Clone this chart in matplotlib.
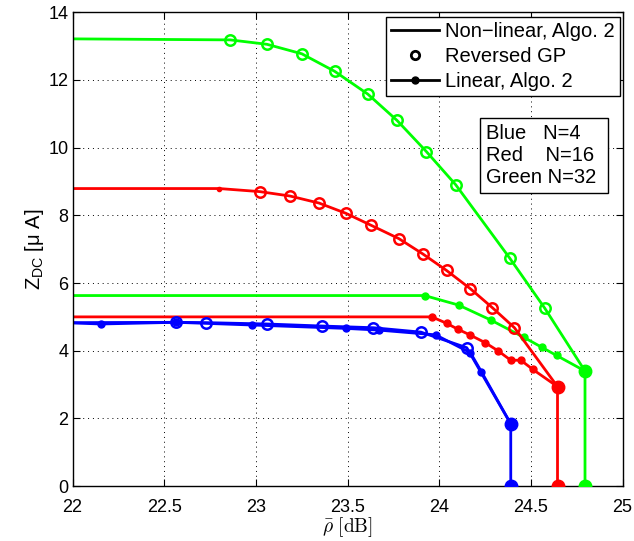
import numpy as np
import matplotlib
matplotlib.use("Agg")
import matplotlib.pyplot as plt
from matplotlib.lines import Line2D

plt.rcParams['font.family'] = ['Liberation Sans', 'DejaVu Sans']
plt.rcParams['mathtext.fontset'] = 'custom'
plt.rcParams['mathtext.rm'] = 'Liberation Sans'
plt.rcParams['mathtext.it'] = 'Liberation Sans:italic'

# ---- data ----
# Green, N=32
g_nl_x = [22.0, 22.86, 23.06, 23.25, 23.43, 23.61, 23.77, 23.93, 24.09, 24.385, 24.575, 24.795, 24.795]
g_nl_y = [13.21, 13.18, 13.05, 12.77, 12.25, 11.58, 10.80, 9.88, 8.90, 6.73, 5.26, 3.40, 0.0]
g_gp_x = [22.86, 23.06, 23.25, 23.43, 23.61, 23.77, 23.93, 24.09, 24.385, 24.575]
g_gp_y = [13.18, 13.05, 12.77, 12.25, 11.58, 10.80, 9.88, 8.90, 6.73, 5.26]
g_lin_x = [22.0, 23.92, 24.105, 24.28, 24.46, 24.56, 24.64, 24.795]
g_lin_y = [5.63, 5.63, 5.35, 4.91, 4.40, 4.10, 3.86, 3.40]

# Red, N=16
r_nl_x = [22.0, 22.80, 23.02, 23.185, 23.345, 23.49, 23.63, 23.78, 23.91, 24.04, 24.17, 24.29, 24.41, 24.645, 24.645]
r_nl_y = [8.79, 8.79, 8.70, 8.57, 8.36, 8.06, 7.70, 7.31, 6.86, 6.37, 5.83, 5.27, 4.68, 2.94, 0.0]
r_gp_x = [23.02, 23.185, 23.345, 23.49, 23.63, 23.78, 23.91, 24.04, 24.17, 24.29, 24.41]
r_gp_y = [8.70, 8.57, 8.36, 8.06, 7.70, 7.31, 6.86, 6.37, 5.83, 5.27, 4.68]
r_lin_x = [22.0, 23.96, 24.04, 24.10, 24.17, 24.25, 24.32, 24.39, 24.445, 24.51, 24.645]
r_lin_y = [5.00, 5.00, 4.81, 4.64, 4.46, 4.24, 4.00, 3.72, 3.72, 3.45, 2.94]

# Blue, N=4
b_nl_x = [22.0, 22.565, 22.73, 23.06, 23.36, 23.64, 23.90, 24.15, 24.39, 24.39]
b_nl_y = [4.83, 4.84, 4.83, 4.79, 4.73, 4.68, 4.55, 4.09, 1.84, 0.0]
b_gp_x = [22.565, 22.73, 23.06, 23.36, 23.64, 23.90, 24.15]
b_gp_y = [4.84, 4.83, 4.79, 4.73, 4.68, 4.55, 4.09]
b_lin_x = [22.0, 22.155, 22.565, 22.98, 23.49, 23.67, 23.98, 24.17, 24.23, 24.39]
b_lin_y = [4.82, 4.79, 4.84, 4.76, 4.66, 4.61, 4.47, 3.94, 3.38, 1.84]

# end points (big dots)
end_x = [24.795, 24.795, 24.645, 24.645, 24.39, 24.39]
end_y = [3.40, 0.0, 2.94, 0.0, 1.84, 0.0]
end_c = ['#00ff00', '#00ff00', '#ff0000', '#ff0000', '#0000ff', '#0000ff']

G, R, B = '#00ff00', '#ff0000', '#0000ff'
lw = 2.0

fig = plt.figure(figsize=(6.34, 5.41), dpi=100)
ax = fig.add_axes([0.1145, 0.1013, 0.8675, 0.8763])

for (nx, ny, gx, gy, lx, ly, c) in [
        (g_nl_x, g_nl_y, g_gp_x, g_gp_y, g_lin_x, g_lin_y, G),
        (r_nl_x, r_nl_y, r_gp_x, r_gp_y, r_lin_x, r_lin_y, R),
        (b_nl_x, b_nl_y, b_gp_x, b_gp_y, b_lin_x, b_lin_y, B)]:
    ax.plot(nx, ny, '-', color=c, lw=lw)
    ax.plot(lx, ly, '-', color=c, lw=lw, marker='o', ms=5, mfc=c, mec=c,
            markevery=list(range(1, len(lx))))
    ax.plot(gx, gy, 'o', color=c, ms=7.5, mfc='none', mew=1.8)

# small dot where red non-linear curve leaves the plateau
ax.plot([r_nl_x[1]], [r_nl_y[1]], 'o', color=R, ms=3)

for x, y, c in zip(end_x, end_y, end_c):
    ax.plot([x], [y], 'o', color=c, ms=9, zorder=5)

ax.set_xlim(22, 25)
ax.set_ylim(0, 14)
ax.set_xticks(np.arange(22, 25.01, 0.5))
ax.set_xticklabels(['22', '22.5', '23', '23.5', '24', '24.5', '25'])
ax.set_yticks(np.arange(0, 14.01, 2))
ax.tick_params(direction='in', top=True, right=True, labelsize=13, length=5)
ax.tick_params(axis='x', pad=9)
ax.tick_params(axis='y', pad=3)
ax.grid(True, linestyle=(0, (1, 4)), color='k', lw=0.7)
for s in ax.spines.values():
    s.set_linewidth(1.0)

ax.set_ylabel('Z$_{\\mathrm{DC}}$ [\u03bc A]', fontsize=14.5, labelpad=2)
ax.set_xlabel(r'$\bar{\rho}\ \mathrm{[dB]}$', fontsize=14, math_fontfamily='cm', labelpad=0)

handles = [Line2D([], [], color='k', lw=2),
           Line2D([], [], color='k', marker='o', ls='none', mfc='none', ms=6, mew=2),
           Line2D([], [], color='k', lw=2, marker='o', ms=5)]
leg = ax.legend(handles, ['Non\u2212linear, Algo. 2', 'Reversed GP', 'Linear, Algo. 2'],
                loc='upper right', bbox_to_anchor=(0.9953, 0.9899), fontsize=14.5,
                frameon=True, fancybox=False, edgecolor='k', framealpha=1,
                handlelength=2.4, handletextpad=0.3, borderpad=0.25, labelspacing=0.3,
                borderaxespad=0)
leg.get_frame().set_linewidth(1.0)

ax.text(0.7516, 0.764, 'Blue   N=4\nRed    N=16\nGreen N=32 ', transform=ax.transAxes,
        fontsize=14.5, va='top', ha='left', linespacing=1.2,
        bbox=dict(boxstyle='square,pad=0.3', fc='white', ec='k', lw=1.0))

fig.savefig('out.png', dpi=100)
